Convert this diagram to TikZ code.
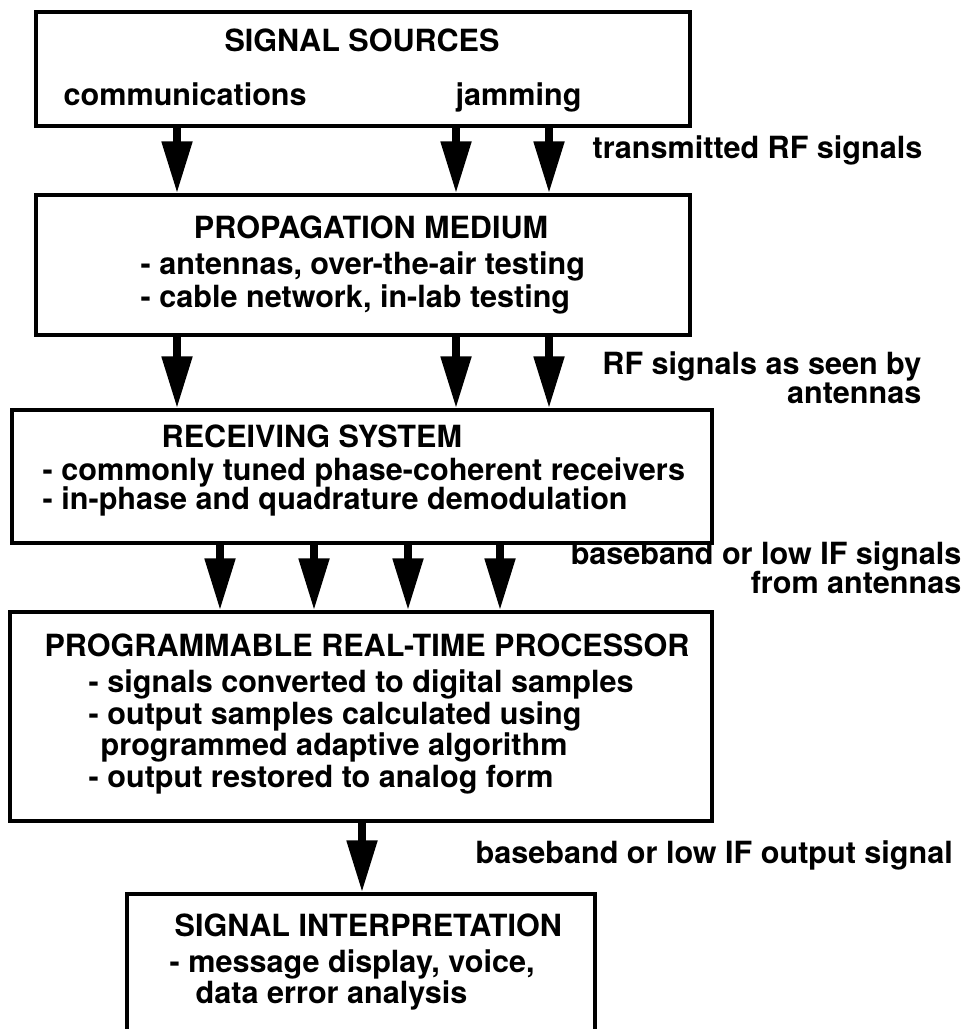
\documentclass[tikz,border=0pt]{standalone}
\usepackage{fontspec}
\setmainfont{TeX Gyre Heros}
\usetikzlibrary{arrows.meta,positioning}

\tikzset{
	box/.style={draw, line width=0.9pt, inner sep=0pt},
	txt/.style={inner sep=0pt, font=\fontsize{8.7}{9.4}\selectfont\bfseries},
	fat/.style={line width=2.3pt, -{Triangle[length=5.2mm,width=2.9mm]}},
}

\begin{document}
\begin{tikzpicture}
	\useasboundingbox (0,0) rectangle (9.66,10.29);

	% blocks
	\node[box, minimum width=6.54cm, minimum height=1.14cm] (src) at (3.63, 9.60) {};
	\node[box, minimum width=6.54cm, minimum height=1.40cm] (prop) at (3.63, 7.64) {};
	\node[box, minimum width=7.00cm, minimum height=1.33cm] (recv) at (3.62, 5.525) {};
	\node[box, minimum width=7.02cm, minimum height=2.09cm] (proc) at (3.61, 3.125) {};
	\node[box, minimum width=4.68cm, minimum height=1.80cm] (interp) at (3.61, 0.45) {};

	% texts in the blocks
	\node[txt, anchor=base] (srct) at (3.62, 9.77) {SIGNAL SOURCES};
	\node[txt, anchor=base west] (comm) at (0.63, 9.23) {communications};
	\node[txt, anchor=base west] (jam) at (4.55, 9.23) {jamming};

	\node[txt, anchor=base] (propt) at (3.71, 7.90) {PROPAGATION MEDIUM};
	\node[txt, anchor=base west] (prop1) at (1.40, 7.54) {- antennas, over-the-air testing};
	\node[txt, anchor=base west] (prop2) at (1.40, 7.21) {- cable network, in-lab testing};

	\node[txt, anchor=base west] (recvt) at (1.61, 5.81) {RECEIVING SYSTEM};
	\node[txt, anchor=base west] (recv1) at (0.42, 5.48) {- commonly tuned phase-coherent receivers};
	\node[txt, anchor=base west] (recv2) at (0.42, 5.19) {- in-phase and quadrature demodulation};

	\node[txt, anchor=base] (proct) at (3.67, 3.72) {PROGRAMMABLE REAL-TIME PROCESSOR};
	\node[txt, anchor=base west] (proc1) at (0.88, 3.36) {- signals converted to digital samples};
	\node[txt, anchor=base west] (proc2) at (0.88, 3.04) {- output samples calculated using};
	\node[txt, anchor=base west] (proc3) at (1.00, 2.73) {programmed adaptive algorithm};
	\node[txt, anchor=base west] (proc4) at (0.88, 2.41) {- output restored to analog form};

	\node[txt, anchor=base west] (intt) at (1.74, 0.92) {SIGNAL INTERPRETATION};
	\node[txt, anchor=base west] (int1) at (1.69, 0.56) {- message display, voice,};
	\node[txt, anchor=base west] (int2) at (1.95, 0.25) {data error analysis};

	% signal labels
	\node[txt, anchor=base west] (lab1) at (5.92, 8.70) {transmitted RF signals};
	\node[txt, anchor=base east] (lab2a) at (9.22, 6.54) {RF signals as seen by};
	\node[txt, anchor=base east] (lab2b) at (9.22, 6.25) {antennas};
	\node[txt, anchor=base east] (lab3a) at (9.62, 4.64) {baseband or low IF signals};
	\node[txt, anchor=base east] (lab3b) at (9.62, 4.35) {from antennas};
	\node[txt, anchor=base west] (lab4) at (4.75, 1.65) {baseband or low IF output signal};

	% arrows
	\coordinate (a1) at (1.77, 0);
	\coordinate (a2) at (4.56, 0);
	\coordinate (a3) at (5.49, 0);
	\coordinate (b1) at (2.20, 0);
	\coordinate (b2) at (3.14, 0);
	\coordinate (b3) at (4.08, 0);
	\coordinate (b4) at (5.00, 0);
	\coordinate (c1) at (3.62, 0);
	\foreach \a in {a1, a2, a3} {
		\draw[fat] (src.south -| \a) -- (prop.north -| \a);
		\draw[fat] (prop.south -| \a) -- (recv.north -| \a);
	}
	\foreach \b in {b1, b2, b3, b4} {
		\draw[fat] (recv.south -| \b) -- (proc.north -| \b);
	}
	\draw[fat] (proc.south -| c1) -- (interp.north -| c1);
\end{tikzpicture}
\end{document}
